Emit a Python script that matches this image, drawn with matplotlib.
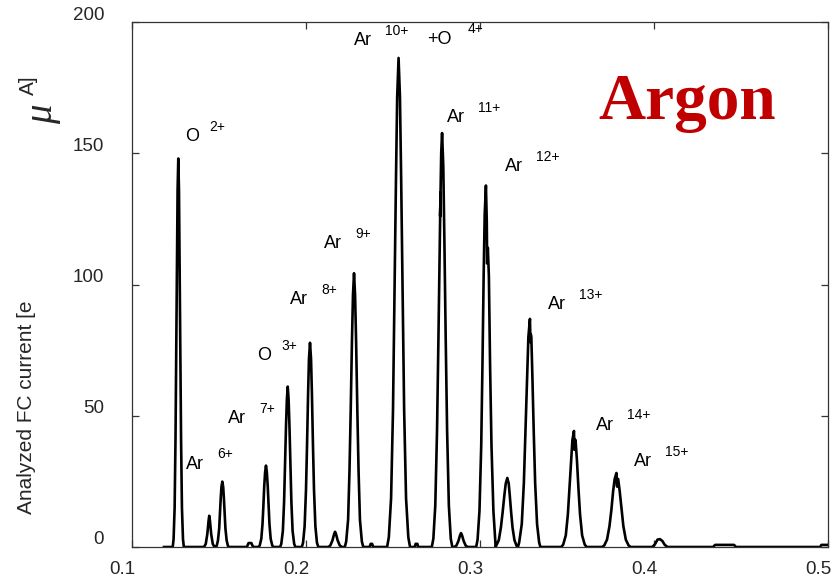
import matplotlib
matplotlib.use('Agg')
import matplotlib.pyplot as plt
from matplotlib.transforms import ScaledTranslation

plt.rcParams['font.family'] = ['Liberation Sans', 'DejaVu Sans']

# analyzed FC current trace, vertices (x: magnetic rigidity axis, y: e uA)
trace_x = [0.1184,
           # O 2+
           0.1234, 0.1239, 0.1245, 0.1250, 0.1254, 0.1259, 0.1262, 0.1266, 0.1270, 0.1273, 0.1278, 0.1282, 0.1287, 0.1293, 0.1298,
           0.1414, 0.1424, 0.1433, 0.1440, 0.1444, 0.1448, 0.1455, 0.1464, 0.1474,
           # Ar 6+
           0.1481, 0.1487, 0.1494, 0.1501, 0.1505, 0.1510, 0.1514, 0.1519, 0.1524, 0.1528, 0.1533, 0.1537, 0.1544, 0.1551, 0.1557,
           0.1660, 0.1670, 0.1686, 0.1696,
           # Ar 7+
           0.1728, 0.1734, 0.1743, 0.1750, 0.1755, 0.1760, 0.1765, 0.1770, 0.1775, 0.1780, 0.1785, 0.1790, 0.1797, 0.1806, 0.1812,
           # O 3+
           0.1851, 0.1858, 0.1867, 0.1874, 0.1879, 0.1885, 0.1890, 0.1895, 0.1900, 0.1905, 0.1911, 0.1916, 0.1923, 0.1932, 0.1939,
           # Ar 8+
           0.1976, 0.1983, 0.1992, 0.2000, 0.2006, 0.2012, 0.2017, 0.2023, 0.2029, 0.2034, 0.2040, 0.2046, 0.2054, 0.2063, 0.2071,
           0.2128, 0.2140, 0.2152, 0.2161, 0.2167, 0.2173, 0.2182, 0.2194, 0.2206,
           # Ar 9+
           0.2223, 0.2231, 0.2242, 0.2250, 0.2257, 0.2264, 0.2270, 0.2276, 0.2282, 0.2288, 0.2295, 0.2302, 0.2310, 0.2321, 0.2329,
           0.2365, 0.2372, 0.2380, 0.2386,
           # Ar 10+ / O 4+
           0.2466, 0.2476, 0.2489, 0.2500, 0.2508, 0.2517, 0.2524, 0.2532, 0.2540, 0.2547, 0.2556, 0.2564, 0.2575, 0.2588, 0.2598,
           0.2625, 0.2630, 0.2640, 0.2645,
           # Ar 11+
           0.2723, 0.2732, 0.2743, 0.2753, 0.2761, 0.2769, 0.2773, 0.2771, 0.2777, 0.2782, 0.2789, 0.2795, 0.2803, 0.2811, 0.2821, 0.2832, 0.2841,
           0.2852, 0.2864, 0.2876, 0.2885, 0.2891, 0.2897, 0.2906, 0.2918, 0.2930,
           # Ar 12+
           0.2978, 0.2986, 0.2997, 0.3007, 0.3014, 0.3021, 0.3027, 0.3034, 0.3039, 0.3041, 0.3045, 0.3051, 0.3058, 0.3066, 0.3077, 0.3090,
           0.3093, 0.3108, 0.3120, 0.3130, 0.3140, 0.3148, 0.3157, 0.3165, 0.3171, 0.3179, 0.3187, 0.3198, 0.3210, 0.3218,
           # Ar 13+
           0.3225, 0.3240, 0.3252, 0.3261, 0.3271, 0.3278, 0.3287, 0.3290, 0.3292, 0.3295, 0.3301, 0.3309, 0.3317, 0.3328, 0.3340, 0.3347,
           # Ar 14+
           0.3467, 0.3478, 0.3493, 0.3505, 0.3514, 0.3524, 0.3531, 0.3540, 0.3543, 0.3545, 0.3549, 0.3557, 0.3566, 0.3575, 0.3587, 0.3602, 0.3613,
           # Ar 15+
           0.3702, 0.3714, 0.3730, 0.3744, 0.3755, 0.3765, 0.3774, 0.3784, 0.3788, 0.3790, 0.3794, 0.3803, 0.3814, 0.3824, 0.3838, 0.3854, 0.3866,
           0.3990, 0.4005, 0.4020, 0.4034, 0.4048, 0.4062, 0.4078,
           0.4340, 0.4351, 0.4460, 0.4471,
           0.4955, 0.4962, 0.5000]
trace_y = [0,
           0, 3, 15, 41, 74, 111, 136, 148, 136, 111, 74, 41, 15, 3, 0,
           0, 1.2, 5, 10, 11.9, 10, 5, 1.2, 0,
           0, 0.5, 2.5, 7, 12.5, 18.7, 22.9, 24.9, 22.9, 18.7, 12.5, 7, 2.5, 0.5, 0,
           0, 1.5, 1.5, 0,
           0, 0.6, 3.1, 8.7, 15.5, 23.2, 28.5, 31, 28.5, 23.2, 15.5, 8.7, 3.1, 0.6, 0,
           0, 1.2, 6.1, 17.1, 30.6, 45.8, 56.2, 61.1, 56.2, 45.8, 30.6, 17.1, 6.1, 1.2, 0,
           0, 1.6, 7.8, 21.8, 38.9, 58.4, 71.6, 77.8, 71.6, 58.4, 38.9, 21.8, 7.8, 1.6, 0,
           0, 0.6, 2.5, 4.8, 5.8, 4.8, 2.5, 0.6, 0,
           0, 2.1, 10.4, 29.2, 52.2, 78.2, 96, 104.3, 96, 78.2, 52.2, 29.2, 10.4, 2.1, 0,
           0, 1.2, 1.2, 0,
           0, 3.7, 18.6, 52.2, 93.2, 139.7, 171.4, 186.3, 171.4, 139.7, 93.2, 52.2, 18.6, 3.7, 0,
           0, 1.2, 1.2, 0,
           0, 3.2, 15.8, 44.2, 78.9, 118.3, 135, 126, 150, 157.7, 145.1, 118.3, 78.9, 44.2, 15.8, 3.2, 0,
           0, 0.5, 2.3, 4.4, 5.3, 4.4, 2.3, 0.5, 0,
           0, 2.8, 13.8, 38.6, 68.9, 103.3, 126.7, 137.7, 124, 108, 114, 103.3, 68.9, 38.6, 13.8, 0,
           0.5, 2.6, 7.4, 13.2, 19.7, 24.2, 26.3, 24.2, 19.7, 13.2, 7.4, 2.6, 0.5, 0,
           1.7, 8.7, 24.3, 43.5, 65.2, 80, 86.9, 78, 81, 80, 65.2, 43.5, 24.3, 8.7, 1.7, 0,
           0, 0.9, 4.4, 12.4, 22.1, 33.2, 40.7, 44.2, 37, 41, 40.7, 33.2, 22.1, 12.4, 4.4, 0.9, 0,
           0, 0.6, 2.8, 7.9, 14.1, 21.2, 25.9, 28.2, 23, 26, 25.9, 21.2, 14.1, 7.9, 2.8, 0.6, 0,
           0, 1, 2.8, 3.0, 2.3, 0.8, 0,
           0, 0.8, 0.8, 0,
           0, 0.8, 0.8]

# ion labels: species, charge state, anchor of the species text
ion_names = ['O', 'Ar', 'Ar', 'O', 'Ar', 'Ar', 'Ar', '+O', 'Ar', 'Ar', 'Ar', 'Ar', 'Ar']
ion_charges = ['2+', '6+', '7+', '3+', '8+', '9+', '10+', '4+', '11+', '12+', '13+', '14+', '15+']
ion_x = [0.1305, 0.1309, 0.1553, 0.1717, 0.1908, 0.2103, 0.2276, 0.2694,
         0.2810, 0.3142, 0.3389, 0.3664, 0.3885]
ion_y = [156.2, 31.6, 48.8, 72.8, 94.1, 115.7, 192.8, 193.5,
         163.7, 144.9, 92.2, 46.4, 32.4]

# horizontal gap (points) between species text and its charge superscript
sup_gap = {'O': 17.5, 'Ar': 22.5, '+O': 29.5}

fig = plt.figure(figsize=(8.33, 5.88), dpi=100)
ax = fig.add_axes([132 / 833, 1 - 547 / 588, 696 / 833, 525 / 588])

ax.plot(trace_x, trace_y, color='black', lw=1.9, solid_joinstyle='round')

for name, q, x, y in zip(ion_names, ion_charges, ion_x, ion_y):
    ax.text(x, y, name, fontsize=13, ha='left', va='center', color='black')
    ax.annotate(q, xy=(x, y), xytext=(sup_gap[name], 7), textcoords='offset points',
                fontsize=10, ha='left', va='center', color='black')

ax.set_xlim(0.1, 0.5)
ax.set_ylim(0, 200)
ax.set_xticks([0.1, 0.2, 0.3, 0.4, 0.5])
ax.set_xticklabels(['0.1', '0.2', '0.3', '0.4', '0.5'])
ax.set_yticks([0, 50, 100, 150, 200])

for s in ax.spines.values():
    s.set_color('#333333')
    s.set_linewidth(0.9)
ax.tick_params(direction='in', top=True, right=True, length=5, width=0.9,
               color='#333333', labelsize=13.5, labelcolor='#262626')
ax.tick_params(axis='x', pad=10)
ax.tick_params(axis='y', pad=20)

# tick labels sit a little off their ticks
for lab in ax.get_yticklabels():
    lab.set_transform(lab.get_transform() + ScaledTranslation(0, 9 / 100, fig.dpi_scale_trans))
for lab in ax.get_xticklabels():
    lab.set_transform(lab.get_transform() + ScaledTranslation(-10 / 100, 0, fig.dpi_scale_trans))

# y label in three pieces: text, the mu sign, and the unit tail
fig.text(27 / 833, 1 - 514 / 588, 'Analyzed FC current [e', rotation=90,
         ha='center', va='bottom', fontsize=15, color='#262626')
fig.text(43 / 833, 1 - 114 / 588, 'μ', rotation=90, ha='center', va='center',
         fontsize=28, family=['Liberation Serif', 'DejaVu Serif'], style='italic', color='#262626')
fig.text(28 / 833, 1 - 95 / 588, 'A]', rotation=90, ha='center', va='bottom',
         fontsize=15, color='#262626')

ax.text(598, 588 - 119, 'Argon', transform=None, fontsize=47, fontweight='bold',
        family=['Liberation Serif', 'DejaVu Serif'], color='#c00000',
        ha='left', va='baseline')

fig.savefig('out.png', dpi=100)
